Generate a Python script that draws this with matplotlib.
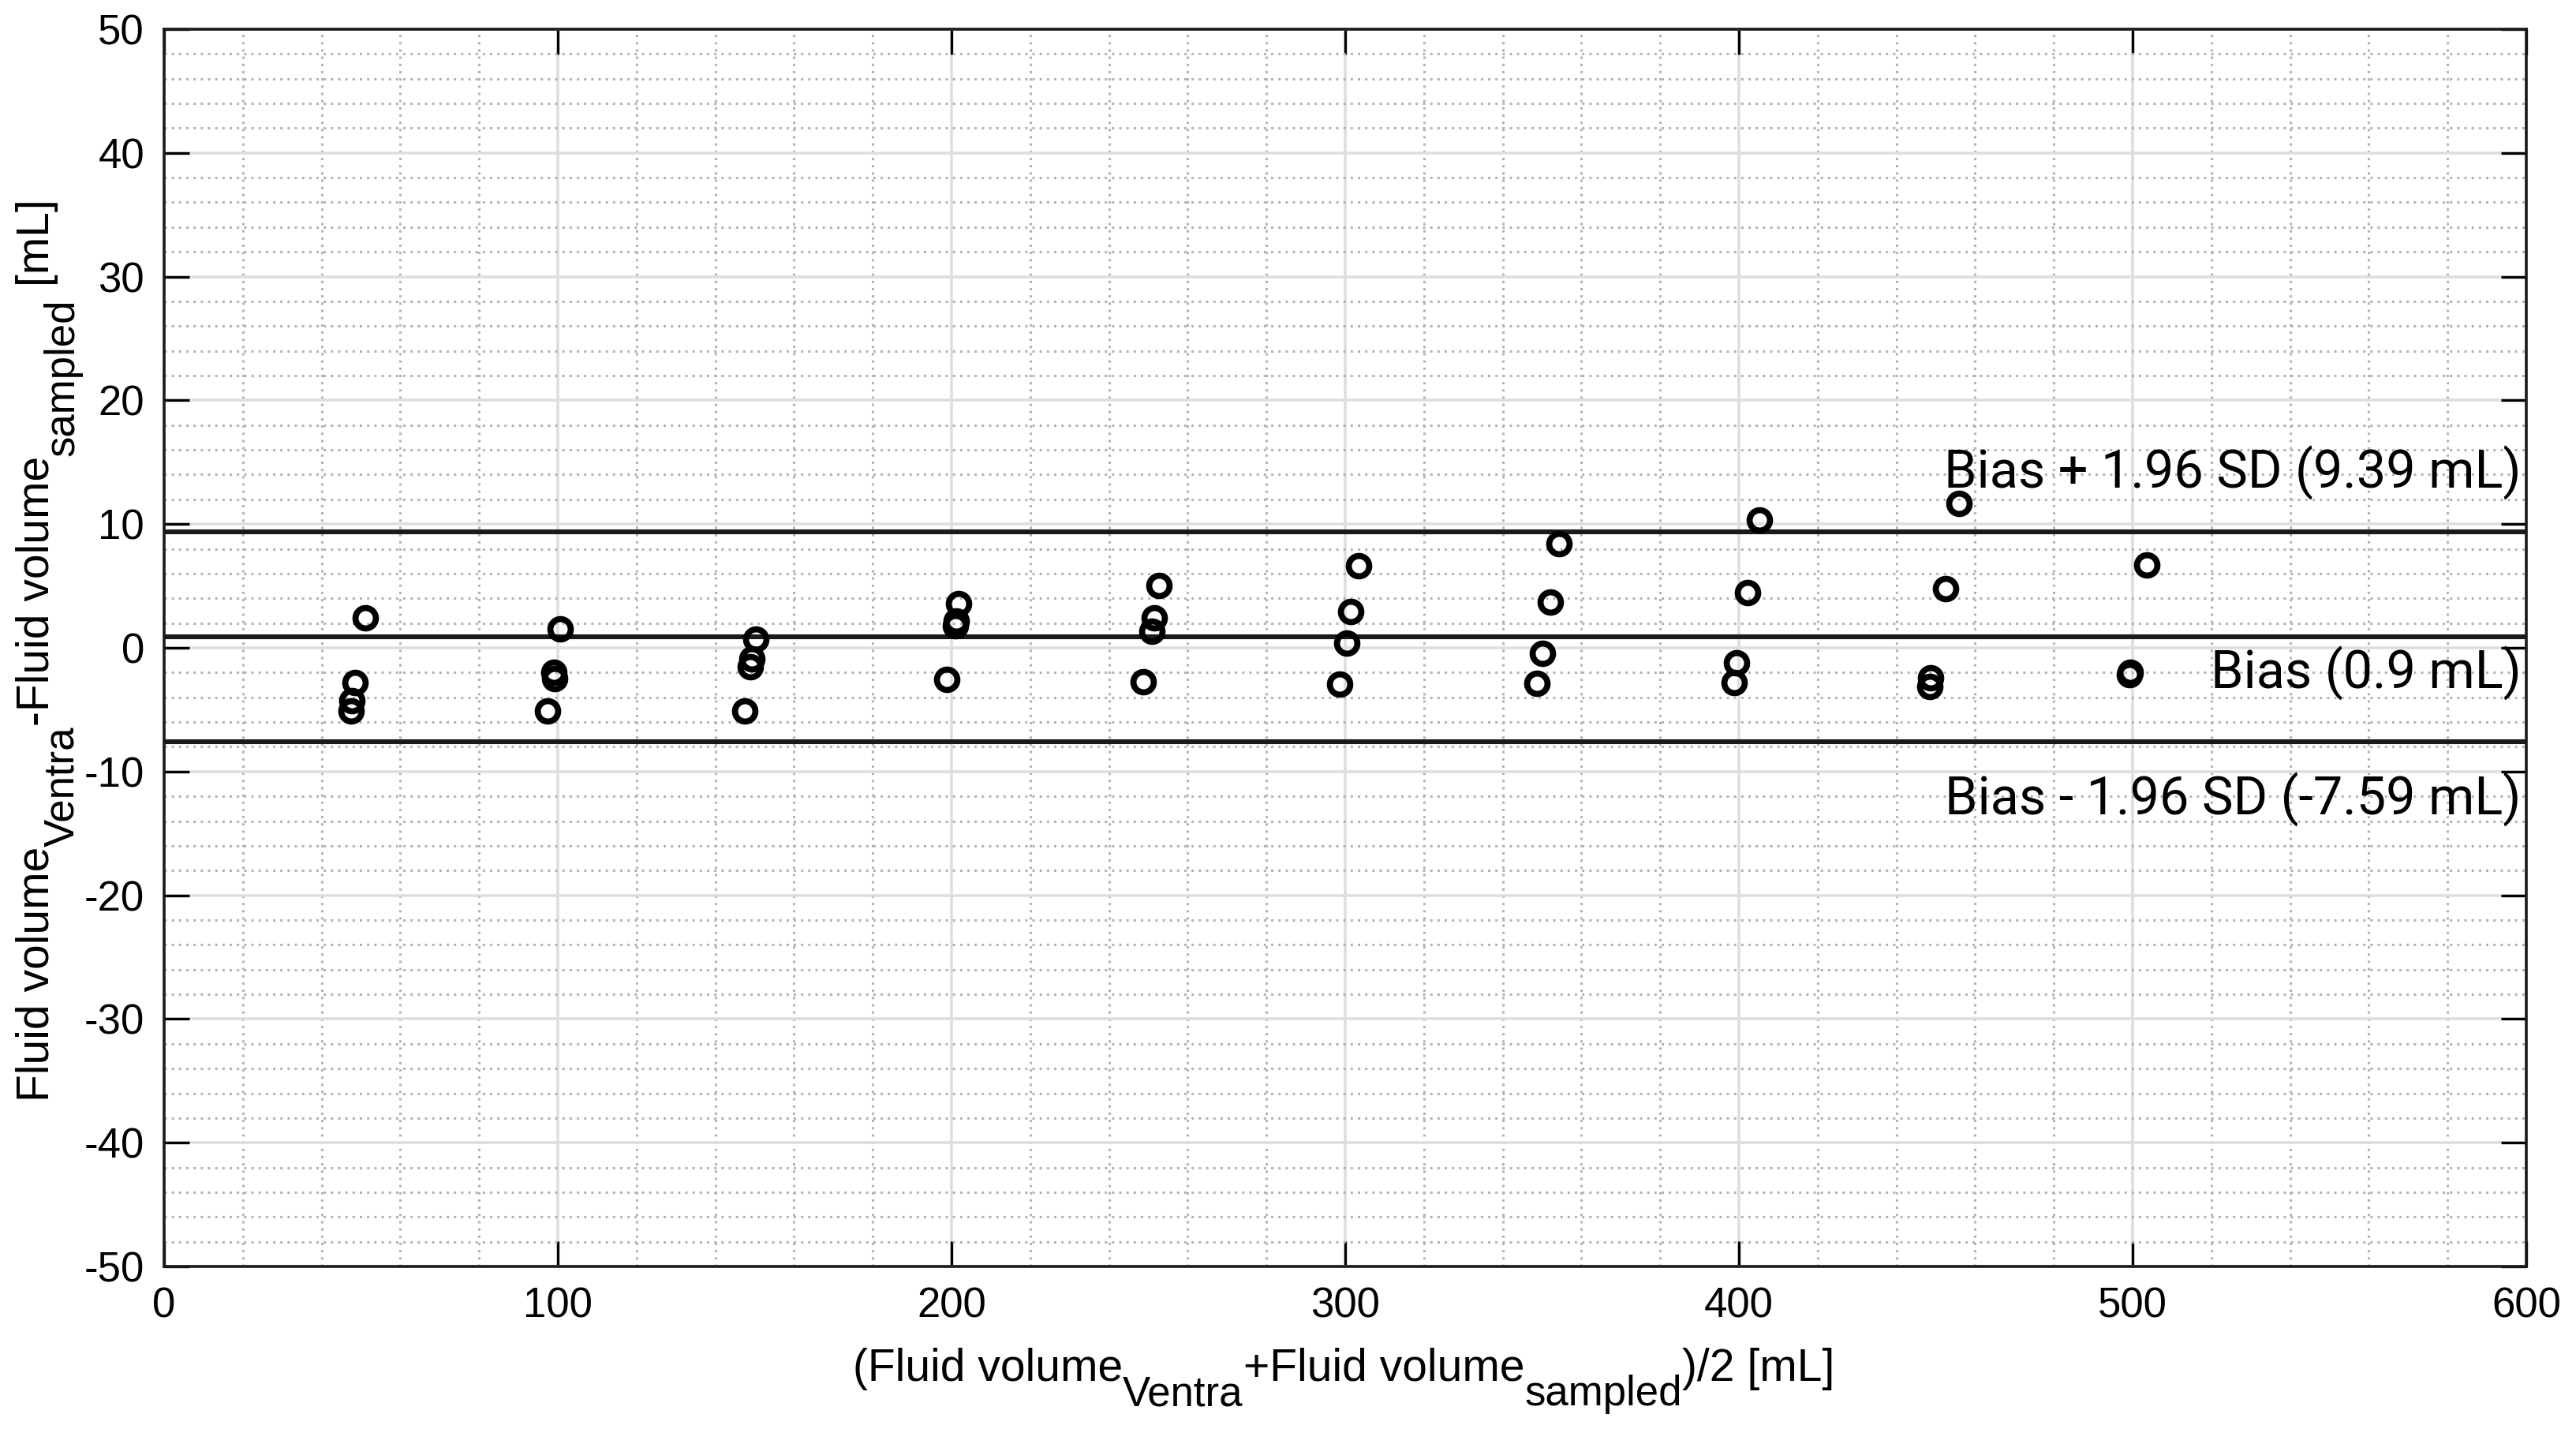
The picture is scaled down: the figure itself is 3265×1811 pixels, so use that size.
import matplotlib
matplotlib.use("Agg")
import matplotlib.pyplot as plt
from matplotlib.ticker import MultipleLocator

plt.rcParams['font.family'] = ['Liberation Sans', 'DejaVu Sans']
plt.rcParams['axes.unicode_minus'] = False

# mean of the two volumes (x) and difference Ventra - sampled (y)
mean_vol = [51.1, 48.5, 47.7, 47.4,
            100.6, 99.0, 99.2, 97.4,
            150.4, 149.3, 149.0, 147.4,
            201.8, 201.2, 201.0, 198.9,
            252.7, 251.5, 250.9, 248.8,
            303.5, 301.5, 300.4, 298.6,
            354.4, 352.1, 350.1, 348.7,
            405.3, 402.3, 399.4, 398.9,
            455.9, 452.6, 448.8, 448.6,
            503.6, 499.4, 499.3]
diff_vol = [2.4, -2.8, -4.3, -5.1,
            1.55, -2.0, -2.5, -5.1,
            0.7, -0.9, -1.5, -5.1,
            3.6, 2.2, 1.8, -2.55,
            5.06, 2.4, 1.34, -2.74,
            6.65, 2.93, 0.38, -2.91,
            8.42, 3.68, -0.47, -2.87,
            10.31, 4.46, -1.21, -2.81,
            11.65, 4.8, -2.45, -3.1,
            6.7, -1.95, -2.15]

bias = 0.9
upper_loa = 9.39
lower_loa = -7.59
line_labels = ['Bias + 1.96 SD (9.39 mL)', 'Bias (0.9 mL)', 'Bias - 1.96 SD (-7.59 mL)']

# axis label pieces: (text, is_subscript)
xlabel_parts = [('(Fluid volume', False), ('Ventra', True), ('+Fluid volume', False),
                ('sampled', True), (')/2 [mL]', False)]
ylabel_parts = [('Fluid volume', False), ('Ventra', True), ('-Fluid volume', False),
                ('sampled', True), (' [mL]', False)]

W, H = 3265, 1811
fig = plt.figure(figsize=(W / 200, H / 200), dpi=200)
ax = fig.add_axes([0.0637, 0.1137, 0.917, 0.8659])

ax.set_xlim(0, 600)
ax.set_ylim(-50, 50)
ax.xaxis.set_major_locator(MultipleLocator(100))
ax.yaxis.set_major_locator(MultipleLocator(10))
ax.xaxis.set_minor_locator(MultipleLocator(20))
ax.yaxis.set_minor_locator(MultipleLocator(2))

ax.grid(which='major', color='#dedede', linewidth=1.3, linestyle='-')
ax.grid(which='minor', color='#b4b4b4', linewidth=1.1, linestyle=(0, (1, 2)))
ax.set_axisbelow(True)

for val in [upper_loa, bias, lower_loa]:
    ax.axhline(val, color='#1a1a1a', linewidth=2.2, zorder=2)

ax.plot(mean_vol, diff_vol, linestyle='none', marker='o', markersize=9.3,
        markerfacecolor='none', markeredgecolor='black', markeredgewidth=2.8, zorder=3)

text_y = [14.1, -2.06, -12.3]
for ty, lab in zip(text_y, line_labels):
    ax.text(598.7, ty, lab, ha='right', va='center', fontsize=24,
            family=['Roboto', 'DejaVu Sans'], color='black')

ax.tick_params(which='major', direction='in', length=11.5, width=1.2,
               top=True, right=True, labelsize=19, pad=9, colors='black')
ax.tick_params(which='minor', length=0)
for s in ax.spines.values():
    s.set_linewidth(1.3)
    s.set_color('#1a1a1a')

# MATLAB-style labels: big subscripts, set piece by piece
main_fs, sub_fs, sub_drop = 20.5, 19, 31
renderer = fig.canvas.get_renderer()


def piece_widths(parts):
    widths = []
    for s, sub in parts:
        t = fig.text(0, 0, s, fontsize=sub_fs if sub else main_fs)
        widths.append(t.get_window_extent(renderer).width)
        t.remove()
    return widths


# x label, centred at x=1703 px, baseline 1750 px from top
wx = piece_widths(xlabel_parts)
x0 = 1703 - sum(wx) / 2
for (s, sub), w in zip(xlabel_parts, wx):
    yb = H - 1750 - (sub_drop if sub else 0)
    fig.text(x0 / W, yb / H, s, fontsize=sub_fs if sub else main_fs,
             ha='left', va='baseline')
    x0 += w

# y label, rotated, baseline at x=62 px, centred at 824 px from top
wy = piece_widths(ylabel_parts)
y0 = (H - 824) - sum(wy) / 2
for (s, sub), w in zip(ylabel_parts, wy):
    xb = 62 + (sub_drop if sub else 0)
    fig.text(xb / W, y0 / H, s, fontsize=sub_fs if sub else main_fs,
             rotation=90, rotation_mode='anchor', ha='left', va='baseline')
    y0 += w

fig.savefig('out.png', dpi=200)
